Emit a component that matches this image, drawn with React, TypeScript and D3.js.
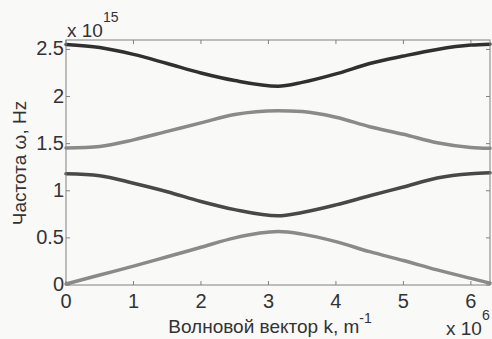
import React from "react";
import * as d3 from "d3";

const kValues = [0, 0.5, 1, 1.5, 2, 2.5, 3.1416, 3.5, 4, 4.5, 5, 5.5, 6, 6.2832];
const band1 = [0.01, 0.106, 0.2, 0.3, 0.4, 0.5, 0.567, 0.54, 0.46, 0.354, 0.26, 0.16, 0.07, 0.02];
const band2 = [1.18, 1.16, 1.08, 0.99, 0.886, 0.8, 0.734, 0.77, 0.85, 0.947, 1.04, 1.135, 1.18, 1.19];
const band3 = [1.454, 1.47, 1.54, 1.63, 1.72, 1.81, 1.85, 1.84, 1.78, 1.68, 1.6, 1.51, 1.46, 1.45];
const band4 = [2.553, 2.52, 2.447, 2.35, 2.25, 2.17, 2.11, 2.15, 2.24, 2.35, 2.43, 2.5, 2.546, 2.556];
const xTicks = [0, 1, 2, 3, 4, 5, 6];
const yTicks = [0, 0.5, 1, 1.5, 2, 2.5];
const yTickLabels = ["0", "0.5", "1", "1.5", "2", "2.5"];

const series = [
  { values: band1, color: "#8a8a8a" },
  { values: band2, color: "#484848" },
  { values: band3, color: "#8a8a8a" },
  { values: band4, color: "#303030" },
];

const W = 492, H = 339;
const L = 66, R = 490, T = 40, B = 285;

export default function App() {
  const x = d3.scaleLinear().domain([0, 6.2832]).range([L, R]);
  const y = d3.scaleLinear().domain([0, 2.6]).range([B, T]);
  const line = d3
    .line<number>()
    .x((_, i) => x(kValues[i]))
    .y((d) => y(d))
    .curve(d3.curveMonotoneX);
  const font = "Arial, 'Liberation Sans', sans-serif";
  const tk = 4;
  return (
    <svg width={W} height={H} style={{ position: "absolute", left: 0, top: 0 }} fontFamily={font}>
      <rect x={0} y={0} width={W} height={H} fill="#f9f9f8" />
      {series.map((s, i) => (
        <path key={i} d={line(s.values) || ""} fill="none" stroke={s.color} strokeWidth={3.5} strokeLinecap="round" />
      ))}
      <rect x={L} y={T} width={R - L} height={B - T} fill="none" stroke="#808080" strokeWidth={1} />
      {xTicks.map((t) => (
        <g key={"x" + t}>
          <line x1={x(t)} x2={x(t)} y1={B} y2={B - tk} stroke="#808080" />
          <line x1={x(t)} x2={x(t)} y1={T} y2={T + tk} stroke="#808080" />
          <text x={x(t)} y={308} fontSize={20} textAnchor="middle" fill="#333">{t}</text>
        </g>
      ))}
      {yTicks.map((t, i) => (
        <g key={"y" + t}>
          <line x1={L} x2={L + tk} y1={y(t)} y2={y(t)} stroke="#808080" />
          <line x1={R} x2={R - tk} y1={y(t)} y2={y(t)} stroke="#808080" />
          <text x={L - 2} y={y(t) + 6} fontSize={20} textAnchor="end" fill="#333">{yTickLabels[i]}</text>
        </g>
      ))}
      <text x={67} y={37} fontSize={19} fill="#333">x 10<tspan dy={-15} fontSize={14}>15</tspan></text>
      <text x={446} y={335} fontSize={19} fill="#333">x 10<tspan dy={-15} fontSize={14}>6</tspan></text>
      <text x={270} y={333} fontSize={19} textAnchor="middle" fill="#333">
        Волновой вектор k, m<tspan dy={-10} fontSize={14}>-1</tspan>
      </text>
      <text transform={`translate(26,163) rotate(-90)`} fontSize={19} textAnchor="middle" fill="#333">
        Частота  ω, Hz
      </text>
    </svg>
  );
}
